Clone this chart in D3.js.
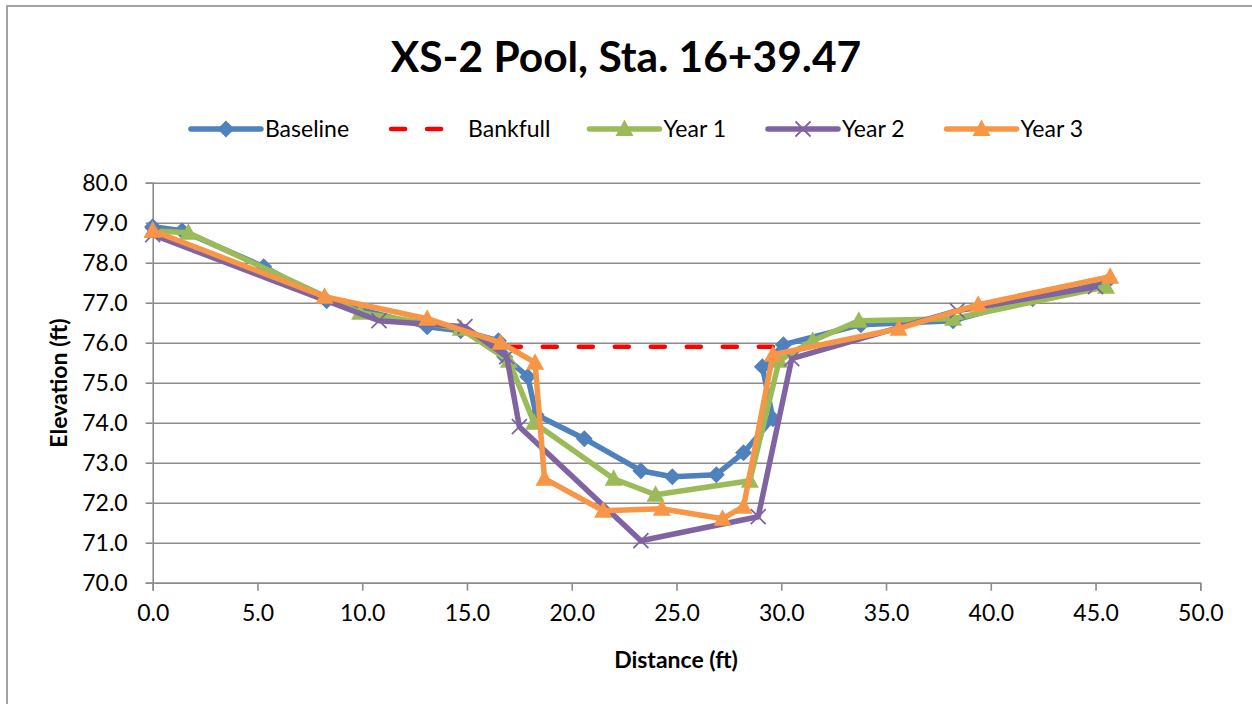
<!DOCTYPE html>
<html>
<head>
<meta charset="utf-8">
<script src="https://cdn.jsdelivr.net/npm/d3@7"></script>
<style>
  body { margin: 0; background: #fff; }
  svg { display: block; font-family: Lato, "Open Sans", sans-serif; }
</style>
</head>
<body>
<div id="chart"></div>
<script>
'use strict';

// ---- data ----
var titleText = "XS-2 Pool, Sta. 16+39.47";
var xTicks = [0, 5, 10, 15, 20, 25, 30, 35, 40, 45, 50];
var yTicks = [70, 71, 72, 73, 74, 75, 76, 77, 78, 79, 80];

var baselineX = [0, 1.4, 5.3, 8.3, 13.1, 14.7, 16.5, 16.8, 17.9, 18.3, 20.6, 23.3, 24.8, 26.9, 28.2, 29.6, 29.1, 30.1, 33.8, 38.2, 42.0, 45.5];
var baselineY = [78.9, 78.8, 77.9, 77.05, 76.4, 76.3, 76.05, 75.65, 75.15, 74.2, 73.6, 72.8, 72.65, 72.7, 73.25, 74.1, 75.4, 75.95, 76.45, 76.55, 77.1, 77.5];

var bankfullX = [16.9, 29.6];
var bankfullY = [75.9, 75.9];

var year1X = [0, 1.7, 9.9, 14.7, 17.0, 18.2, 22.0, 24.0, 28.5, 29.9, 31.5, 33.7, 38.2, 45.5];
var year1Y = [78.8, 78.75, 76.75, 76.35, 75.55, 74.0, 72.6, 72.2, 72.55, 75.55, 76.05, 76.55, 76.6, 77.4];

var year2X = [0, 10.8, 14.9, 16.9, 17.5, 23.3, 28.9, 30.5, 38.4, 45.0];
var year2Y = [78.7, 76.55, 76.4, 75.65, 73.9, 71.05, 71.65, 75.6, 76.8, 77.4];

var year3X = [0, 8.2, 13.1, 16.6, 18.25, 18.7, 21.5, 24.3, 27.2, 28.2, 29.6, 35.6, 39.4, 45.7];
var year3Y = [78.8, 77.15, 76.6, 76.0, 75.5, 72.6, 71.8, 71.85, 71.6, 71.9, 75.7, 76.35, 76.95, 77.65];

var series = [
    {name: "Baseline", xs: baselineX, ys: baselineY, color: "#4F81BD", marker: "diamond"},
    {name: "Bankfull", xs: bankfullX, ys: bankfullY, color: "#FF0000", marker: "none", dash: true},
    {name: "Year 1", xs: year1X, ys: year1Y, color: "#9BBB59", marker: "triangle"},
    {name: "Year 2", xs: year2X, ys: year2Y, color: "#8064A2", marker: "cross"},
    {name: "Year 3", xs: year3X, ys: year3Y, color: "#F79646", marker: "triangle"}
];

// ---- layout ----
var W = 1252, H = 704;
var plotLeft = 152.7, plotRight = 1200.3, plotTop = 182.7, plotBottom = 582.7;

var svg = d3.select("#chart").append("svg")
    .attr("width", W)
    .attr("height", H);

// chart area border
svg.append("rect")
    .attr("x", 7).attr("y", 6)
    .attr("width", W + 10).attr("height", H + 10)
    .attr("fill", "#fff")
    .attr("stroke", "#878787")
    .attr("stroke-width", 1.5);

var x = d3.scaleLinear().domain([0, 50]).range([plotLeft, plotRight]);
var y = d3.scaleLinear().domain([70, 80]).range([plotBottom, plotTop]);

// gridlines
svg.append("g")
    .attr("transform", "translate(" + plotLeft + ",0)")
    .call(d3.axisLeft(y).tickValues(yTicks).tickSize(-(plotRight - plotLeft)).tickFormat(""))
    .call(function(g) {
        g.select(".domain").remove();
        g.selectAll(".tick line").attr("stroke", "#8c8c8c").attr("stroke-width", 1.6);
    });

// y axis
svg.append("g")
    .attr("transform", "translate(" + plotLeft + ",0)")
    .call(d3.axisLeft(y).tickValues(yTicks).tickSize(7).tickPadding(18).tickFormat(d3.format(".1f")))
    .call(function(g) {
        g.select(".domain").attr("stroke", "#8c8c8c").attr("stroke-width", 1.6);
        g.selectAll(".tick line").attr("stroke", "#8c8c8c").attr("stroke-width", 1.6);
        g.selectAll(".tick text").attr("fill", "#000").style("font-size", "23px").style("font-family", "Lato");
    });

// x axis
svg.append("g")
    .attr("transform", "translate(0," + plotBottom + ")")
    .call(d3.axisBottom(x).tickValues(xTicks).tickSize(8).tickPadding(14).tickFormat(d3.format(".1f")))
    .call(function(g) {
        g.select(".domain").attr("stroke", "#8c8c8c").attr("stroke-width", 1.6);
        g.selectAll(".tick line").attr("stroke", "#8c8c8c").attr("stroke-width", 1.6);
        g.selectAll(".tick text").attr("fill", "#000").style("font-size", "23px").style("font-family", "Lato");
    });

// axis titles
svg.append("text")
    .attr("x", 676).attr("y", 668)
    .attr("text-anchor", "middle")
    .style("font-size", "23px").style("font-weight", "bold")
    .text("Distance (ft)");

svg.append("text")
    .attr("transform", "translate(67,383) rotate(-90)")
    .attr("text-anchor", "middle")
    .style("font-size", "23px").style("font-weight", "bold")
    .text("Elevation (ft)");

// title
svg.append("text")
    .attr("x", 626).attr("y", 72)
    .attr("text-anchor", "middle")
    .style("font-size", "42.5px").style("font-weight", "bold")
    .text(titleText);

// markers
function drawMarker(g, type, color, cx, cy) {
    if (type === "diamond") {
        g.append("path")
            .attr("d", "M" + cx + "," + (cy - 8.5) + "L" + (cx + 8.5) + "," + cy + "L" + cx + "," + (cy + 8.5) + "L" + (cx - 8.5) + "," + cy + "Z")
            .attr("fill", color);
    } else if (type === "triangle") {
        g.append("path")
            .attr("d", "M" + cx + "," + (cy - 9.5) + "L" + (cx + 9) + "," + (cy + 7) + "L" + (cx - 9) + "," + (cy + 7) + "Z")
            .attr("fill", color);
    } else if (type === "cross") {
        g.append("path")
            .attr("d", "M" + (cx - 7.5) + "," + (cy - 7.5) + "L" + (cx + 7.5) + "," + (cy + 7.5) + "M" + (cx + 7.5) + "," + (cy - 7.5) + "L" + (cx - 7.5) + "," + (cy + 7.5))
            .attr("stroke", color).attr("stroke-width", 1.8).attr("fill", "none");
    }
}

var line = d3.line()
    .x(function(d) { return x(d[0]); })
    .y(function(d) { return y(d[1]); });

series.forEach(function(s) {
    var pts = s.xs.map(function(v, i) { return [v, s.ys[i]]; });
    var g = svg.append("g");
    g.append("path")
        .datum(pts)
        .attr("d", line)
        .attr("fill", "none")
        .attr("stroke", s.color)
        .attr("stroke-width", s.dash ? 4.5 : 5.5)
        .attr("stroke-linejoin", "round")
        .attr("stroke-linecap", "round")
        .attr("stroke-dasharray", s.dash ? "14,22" : null);
    pts.forEach(function(p) {
        drawMarker(g, s.marker, s.color, x(p[0]), y(p[1]));
    });
});

// legend
var legend = svg.append("g");
var lx = 0, legY = 129, symW = 72;
series.forEach(function(s) {
    var g = legend.append("g").attr("transform", "translate(" + lx + ",0)");
    g.append("line")
        .attr("x1", 2).attr("x2", symW).attr("y1", legY).attr("y2", legY)
        .attr("stroke", s.color).attr("stroke-width", s.dash ? 4.5 : 5.5)
        .attr("stroke-linecap", "round")
        .attr("stroke-dasharray", s.dash ? "14,22" : null);
    drawMarker(g, s.marker, s.color, symW / 2 + 1, legY);
    var t = g.append("text")
        .attr("x", symW + (s.dash ? 7 : 4)).attr("y", legY + 8)
        .style("font-size", "23px")
        .text(s.name);
    lx += symW + 4 + t.node().getComputedTextLength() + 40;
});
var legW = lx - 40;
legend.attr("transform", "translate(" + (636 - legW / 2) + ",0)");
</script>
</body>
</html>
